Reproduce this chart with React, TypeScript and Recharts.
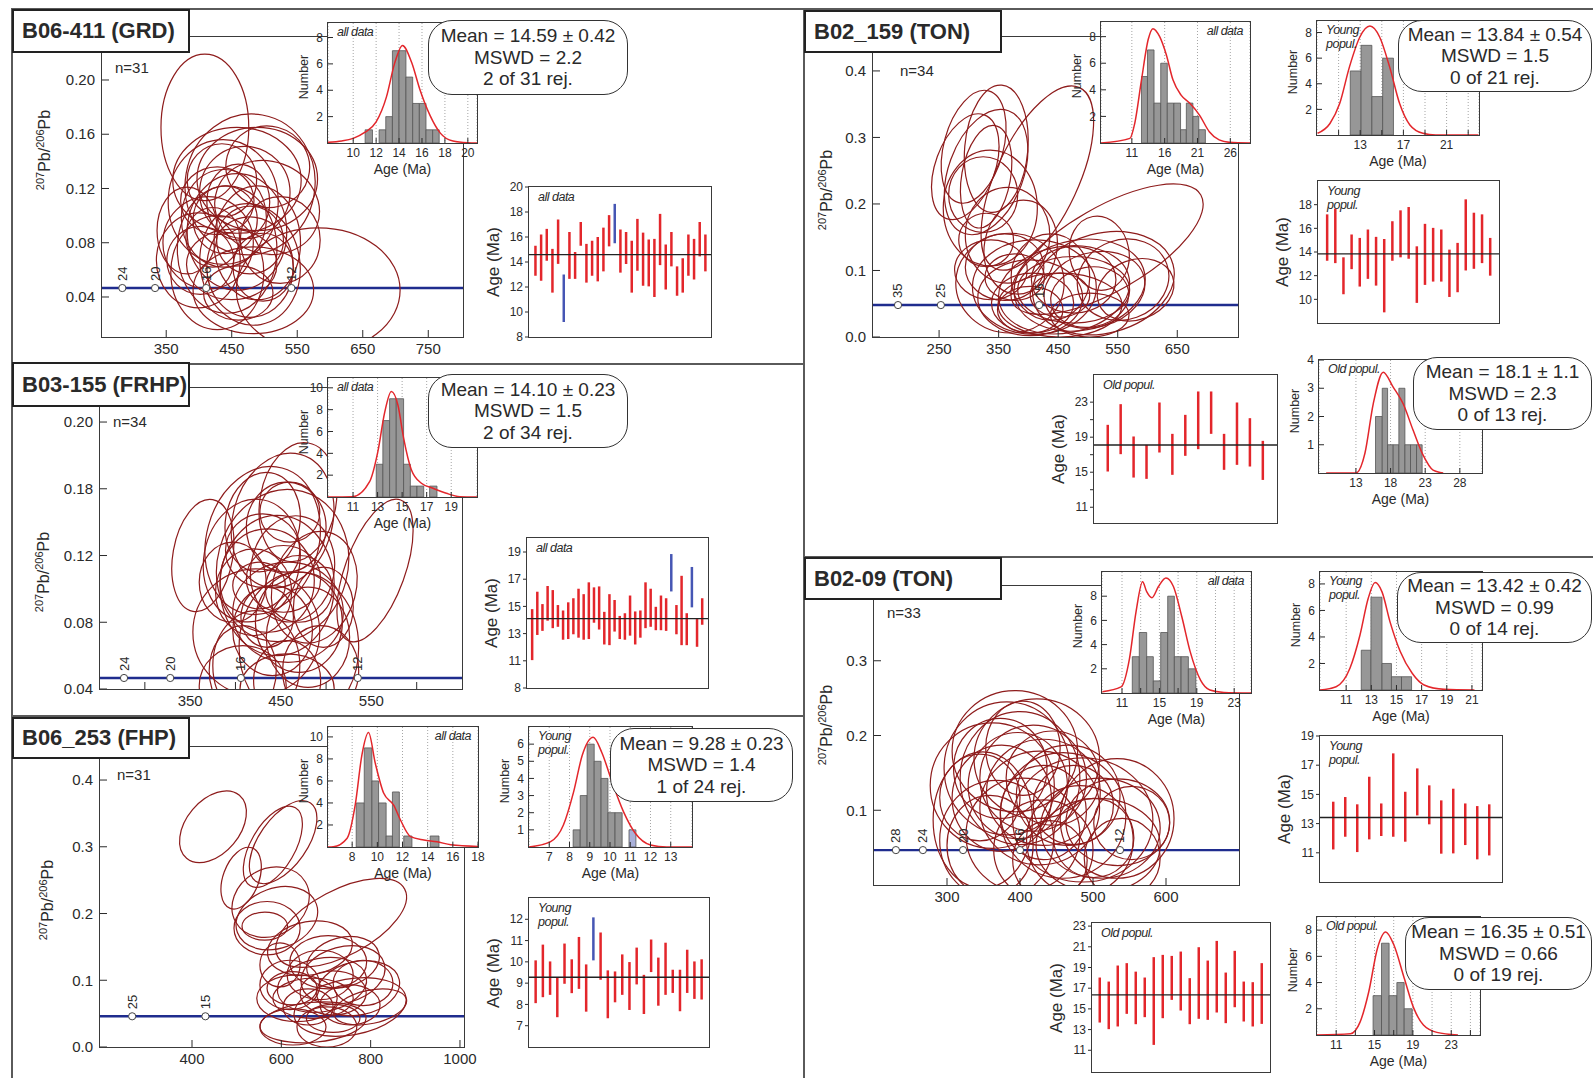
import React from "react";
import {
  ComposedChart,
  BarChart,
  Bar,
  Cell,
  Line,
  Scatter,
  XAxis,
  YAxis,
  ReferenceLine,
  ReferenceArea,
  CartesianGrid,
} from "recharts";

type Ell = [number, number, number, number, number]; // centre x, centre y, half-width, half-height, tilt (deg)
type Bin = [number, number, number]; // from age, to age, count
type Pt = [number, number]; // age, density (in counts)
type Rng = [number, number]; // age - 2s, age + 2s
type Mark = [number, string]; // 238U/206Pb position, age label

// ---------- B06-411 (GRD) ----------
const ell411: Ell[] = [
  [409, 0.165, 67, 0.054, 0], [582, 0.045, 125, 0.046, 0], [478, 0.123, 99, 0.052, 10],
  [489, 0.127, 92, 0.038, 0], [458, 0.126, 98, 0.039, 0], [437, 0.11, 84, 0.046, 0],
  [438, 0.098, 65, 0.036, 0], [458, 0.088, 76, 0.043, 0], [399, 0.067, 64, 0.035, 0],
  [428, 0.058, 71, 0.042, 0], [450, 0.064, 69, 0.026, 0], [489, 0.08, 66, 0.042, 0],
  [524, 0.082, 61, 0.032, 0], [470, 0.117, 69, 0.034, 0], [440, 0.097, 49, 0.025, 0],
  [443, 0.075, 76, 0.047, 0], [478, 0.062, 66, 0.037, 0], [414, 0.08, 69, 0.034, 0],
  [483, 0.045, 92, 0.032, 0], [460, 0.11, 48, 0.028, 0], [505, 0.136, 64, 0.03, 15],
  [435, 0.126, 53, 0.027, 0], [402, 0.067, 51, 0.025, 0], [478, 0.082, 51, 0.025, 0],
  [498, 0.062, 46, 0.025, 0], [428, 0.111, 56, 0.025, 0], [478, 0.064, 76, 0.045, -10],
  [382, 0.089, 46, 0.032, 0], [504, 0.106, 81, 0.034, 20], [421, 0.084, 41, 0.022, 0],
  [460, 0.043, 53, 0.02, 0],
];
const mk411: Mark[] = [[283, "24"], [333, "20"], [411, "16"], [541, "12"]];
const bins411: Bin[] = [
  [11.04, 11.68, 1], [12.26, 12.84, 1], [12.84, 13.42, 2], [13.42, 14.0, 7], [14.0, 14.6, 7],
  [14.6, 15.19, 5], [15.19, 15.77, 3], [15.77, 16.35, 3], [16.35, 16.93, 1], [16.93, 17.5, 1],
];
const kde411: Pt[] = [
  [7.8, 0.05], [9, 0.15], [10, 0.35], [11, 0.8], [12, 1.6], [12.9, 3.5], [13.6, 6.0], [14.3, 7.4],
  [15.1, 6.1], [15.8, 4.1], [16.7, 2.1], [17.6, 0.75], [18.7, 0.15], [20, 0.02], [20.8, 0],
];
const wm411: Rng[] = [
  [12.9, 15.3], [12.5, 16.2], [14.1, 16.65], [11.55, 15.05], [13.85, 17.4], [9.2, 13.0],
  [12.65, 16.4], [12.65, 14.8], [15.3, 17.2], [12.35, 15.45], [12.9, 15.7], [12.45, 16.0],
  [13.25, 16.75], [15.25, 17.75], [15.5, 18.65], [13.15, 16.6], [13.85, 16.4], [11.55, 15.7],
  [13.3, 17.45], [12.1, 16.35], [12.05, 15.8], [11.2, 15.85], [13.75, 17.85], [11.8, 15.4],
  [13.65, 16.4], [11.3, 13.65], [11.55, 14.3], [12.9, 16.2], [12.6, 15.85], [14.45, 17.2],
  [13.25, 16.2],
];
const rej411 = [5, 14];

// ---------- B03-155 (FRHP) ----------
const ell155: Ell[] = [
  [364, 0.12, 33, 0.034, 10], [554, 0.111, 33, 0.045, 20], [469, 0.152, 42, 0.036, 10],
  [452, 0.141, 55, 0.041, 15], [430, 0.129, 62, 0.045, 15], [452, 0.114, 72, 0.046, 15],
  [418, 0.117, 53, 0.037, 10], [446, 0.102, 63, 0.042, 0], [423, 0.074, 70, 0.038, 0],
  [470, 0.065, 66, 0.045, 0], [435, 0.105, 52, 0.031, 0], [463, 0.112, 46, 0.032, 10],
  [458, 0.086, 61, 0.03, 0], [423, 0.054, 48, 0.033, 0], [470, 0.08, 48, 0.03, 0],
  [397, 0.104, 37, 0.024, 0], [487, 0.101, 46, 0.034, 15], [430, 0.14, 41, 0.03, 10],
  [456, 0.137, 44, 0.027, 0], [441, 0.075, 44, 0.027, 0], [408, 0.051, 37, 0.027, 0],
  [494, 0.051, 42, 0.027, 0], [457, 0.045, 37, 0.024, 0], [435, 0.083, 29, 0.018, 0],
  [470, 0.1, 37, 0.02, 0], [420, 0.098, 42, 0.026, 0], [460, 0.146, 33, 0.018, 0],
  [426, 0.102, 29, 0.014, 0], [497, 0.089, 33, 0.024, 0], [408, 0.042, 48, 0.024, 0],
  [457, 0.04, 52, 0.021, 0], [480, 0.071, 46, 0.03, 0], [430, 0.123, 41, 0.022, 0],
  [453, 0.106, 41, 0.02, 0],
];
const mk155: Mark[] = [[277, "24"], [328, "20"], [406, "16"], [535, "12"]];
const yt155 = [0.04, 0.08, 0.12, 0.16, 0.2];
const yLab155 = ["0.04", "0.08", "0.12", "0.18", "0.20"];
const xt155 = [300, 350, 400, 450, 500, 550, 600];
const bins155: Bin[] = [
  [12.89, 13.43, 3], [13.43, 13.98, 7], [13.98, 14.52, 9], [14.52, 15.12, 9],
  [15.12, 15.67, 3], [15.67, 16.21, 1], [16.21, 16.76, 1], [17.24, 17.84, 1],
];
const kde155: Pt[] = [
  [8.96, 0], [10.98, 0.03], [12.35, 1.4], [13.03, 4.2], [13.57, 7.7], [14.12, 9.66], [14.66, 8.4],
  [15.12, 5.4], [15.75, 2.5], [16.57, 1.26], [17.52, 0.8], [18.6, 0.34], [19.7, 0.03], [21.1, 0],
];
const wm155: Rng[] = [
  [11.05, 14.8], [12.9, 16.08], [13.2, 15.17], [13.95, 16.5], [13.4, 16.2], [13.5, 15.1],
  [12.55, 14.7], [12.6, 15.3], [12.95, 15.6], [12.7, 16.3], [12.55, 15.9], [12.6, 16.77],
  [13.8, 16.4], [13.3, 16.47], [12.2, 14.6], [12.15, 15.9], [13.15, 15.47], [12.6, 14.3],
  [12.55, 14.5], [12.85, 15.8], [12.2, 14.63], [12.7, 14.7], [13.4, 16.77], [13.5, 16.3],
  [13.25, 14.97], [13.25, 15.8], [13.2, 15.6], [16.1, 18.85], [12.95, 15.1], [12.15, 17.25],
  [12.15, 14.5], [14.93, 17.9], [12.03, 14.07], [13.65, 15.6],
];
const rej155 = [27, 31];
const wmT155 = [9, 11, 13, 15, 17, 19];
const wmL155 = ["8", "11", "13", "15", "17", "19"];

// ---------- B06_253 (FHP) ----------
const ell253: Ell[] = [
  [447, 0.33, 92, 0.04, -50], [581, 0.3, 101, 0.033, -60], [604, 0.307, 107, 0.036, -55],
  [510, 0.253, 72, 0.027, -70], [576, 0.217, 90, 0.05, -30], [590, 0.193, 94, 0.045, -20],
  [563, 0.181, 51, 0.021, 0], [734, 0.186, 161, 0.049, -28], [568, 0.178, 74, 0.04, 0],
  [664, 0.148, 96, 0.04, -10], [705, 0.127, 86, 0.04, 0], [619, 0.093, 67, 0.037, 0],
  [635, 0.073, 90, 0.035, 0], [691, 0.093, 101, 0.04, -10], [738, 0.108, 96, 0.042, -15],
  [772, 0.088, 94, 0.04, -12], [754, 0.06, 127, 0.042, -10], [671, 0.037, 119, 0.03, -5],
  [671, 0.073, 90, 0.03, 0], [716, 0.081, 74, 0.033, 0], [687, 0.108, 74, 0.037, 0],
  [738, 0.127, 83, 0.037, -15], [624, 0.088, 56, 0.025, 0], [660, 0.06, 56, 0.027, 0],
  [754, 0.063, 67, 0.03, 0], [799, 0.06, 83, 0.025, -12], [702, 0.03, 67, 0.03, 0],
  [626, 0.03, 74, 0.027, 0], [783, 0.096, 67, 0.034, 0], [597, 0.123, 45, 0.033, 0],
  [716, 0.043, 60, 0.021, 0],
];
const mk253: Mark[] = [[266, "25"], [430, "15"]];
const bins253: Bin[] = [
  [8.32, 8.96, 4], [8.96, 9.57, 9], [9.57, 10.1, 6], [10.1, 10.7, 4], [10.7, 11.2, 1],
  [11.2, 11.75, 5], [12.1, 12.75, 1], [14.2, 14.9, 1],
];
const kde253: Pt[] = [
  [6.08, 0], [6.5, 0.02], [7.6, 0.8], [8.24, 3.8], [8.78, 8.4], [9.3, 10.4], [9.84, 7.6], [10.5, 4.9],
  [11.3, 3.8], [11.84, 2.45], [12.64, 0.94], [13.7, 0.64], [14.74, 0.48], [15.84, 0.2], [18, 0.05],
];
const bins253y: Bin[] = [
  [8.18, 8.53, 1], [8.53, 8.87, 3], [8.87, 9.22, 6], [9.22, 9.56, 5], [9.56, 9.9, 4],
  [9.9, 10.25, 2], [10.25, 10.6, 2], [10.94, 11.28, 1],
];
const rejBin253y = [7];
const kde253y: Pt[] = [
  [6, 0], [7.05, 0.3], [7.7, 1.28], [8.2, 3.2], [8.63, 5.35], [9.17, 6.4], [9.6, 5.5], [10.1, 3.8],
  [10.67, 2.05], [11.25, 0.8], [12.0, 0.12], [12.8, 0], [14.05, 0],
];
const wm253: Rng[] = [
  [8.06, 10.07], [8.34, 10.81], [8.45, 10.02], [7.4, 9.28], [8.97, 10.86], [8.53, 10.12],
  [8.73, 11.17], [7.66, 9.88], [10.07, 12.09], [9.16, 11.38], [7.35, 9.6], [8.1, 9.55],
  [8.45, 10.35], [7.74, 9.99], [8.94, 10.67], [7.55, 9.39], [9.52, 11.05], [7.94, 10.2],
  [8.45, 10.9], [8.54, 9.63], [7.68, 9.63], [8.54, 10.57], [8.26, 10.02], [8.23, 10.12],
];
const rej253 = [8];

// ---------- B02_159 (TON) ----------
const ell159: Ell[] = [
  [294, 0.256, 50, 0.083, 20], [308, 0.286, 50, 0.087, 15], [329, 0.248, 63, 0.098, 20],
  [329, 0.241, 41, 0.078, 10], [346, 0.283, 53, 0.096, 5], [415, 0.239, 69, 0.15, 25],
  [532, 0.132, 182, 0.063, -30], [336, 0.194, 79, 0.087, 0], [324, 0.214, 58, 0.057, 0],
  [365, 0.153, 71, 0.072, 0], [387, 0.135, 61, 0.071, 10], [369, 0.081, 91, 0.075, 0],
  [410, 0.075, 104, 0.071, 0], [460, 0.071, 111, 0.065, -10], [526, 0.081, 121, 0.075, -15],
  [486, 0.078, 111, 0.068, -10], [403, 0.059, 88, 0.057, 0], [453, 0.048, 104, 0.048, 0],
  [476, 0.071, 94, 0.05, 0], [511, 0.071, 86, 0.056, -15], [407, 0.051, 69, 0.045, 0],
  [337, 0.101, 61, 0.045, 0], [360, 0.105, 66, 0.05, 0], [437, 0.09, 66, 0.065, 0],
  [476, 0.086, 71, 0.05, 0], [503, 0.06, 66, 0.045, -10], [559, 0.086, 78, 0.06, -20],
  [377, 0.09, 50, 0.035, 0], [453, 0.063, 50, 0.033, 0], [403, 0.041, 55, 0.035, 0],
  [503, 0.033, 66, 0.033, 0], [329, 0.146, 46, 0.04, 0], [519, 0.126, 50, 0.056, -10],
  [580, 0.071, 66, 0.045, -20],
];
const mk159: Mark[] = [[181, "35"], [253, "25"], [418, "15"]];
const bins159: Bin[] = [
  [12.47, 13.38, 5], [13.38, 14.38, 7], [14.38, 15.4, 3], [15.4, 16.4, 6], [16.4, 17.4, 3],
  [17.4, 18.42, 3], [18.42, 19.3, 1], [19.3, 20.3, 3], [20.3, 21.2, 2], [21.2, 22.2, 1],
];
const kde159: Pt[] = [
  [6.3, 0], [10.7, 0.35], [11.45, 1.5], [12.47, 4.75], [13.5, 7.8], [14.2, 8.6], [15.24, 8.0],
  [16.25, 6.64], [17.26, 4.75], [18.5, 3.6], [19.8, 3.0], [21.3, 2.1], [22.8, 0.85], [24.3, 0.23],
  [25.85, 0.05], [29, 0],
];
const bins159y: Bin[] = [[12.08, 13.08, 5], [13.08, 14.08, 7], [14.08, 15.08, 3], [15.08, 16.08, 6]];
const kde159y: Pt[] = [
  [9.05, 0.13], [10.2, 0.9], [11.1, 2.45], [12.0, 5.3], [12.97, 7.65], [13.9, 8.5], [14.8, 7.65],
  [15.73, 5.3], [16.65, 2.45], [17.6, 0.78], [18.8, 0.13], [20, 0], [23.95, 0],
];
const wm159y: Rng[] = [
  [13.26, 17.18], [13.06, 17.66], [10.43, 13.55], [12.55, 15.48], [11.08, 15.19], [11.73, 15.9],
  [11.16, 15.28], [8.9, 15.1], [13.26, 16.6], [13.55, 17.52], [13.43, 17.8], [9.7, 14.48],
  [11.22, 16.38], [11.5, 16.04], [11.5, 15.9], [10.2, 14.2], [10.6, 14.77], [12.44, 18.45],
  [12.58, 17.32], [13.06, 17.18], [12.0, 15.19],
];
const wm159o: Rng[] = [
  [15.08, 20.41], [17.06, 22.77], [14.39, 19.08], [14.24, 18.12], [17.25, 22.96], [14.7, 19.38],
  [16.87, 21.55], [17.63, 24.22], [19.38, 24.22], [15.27, 19.38], [15.84, 22.96], [15.65, 21.17],
  [14.12, 18.58],
];
const bins159o: Bin[] = [
  [15.83, 16.8, 2], [16.8, 17.57, 3], [17.57, 18.38, 1], [18.38, 19.2, 1], [19.2, 20.07, 3],
  [20.07, 20.88, 1], [20.88, 21.75, 1], [21.75, 22.56, 1],
];
const kde159o: Pt[] = [
  [8.7, 0], [13, 0], [14.3, 0.7], [15.5, 2.45], [16.94, 3.57], [18.38, 3.04], [19.82, 2.45],
  [21.26, 1.51], [22.7, 0.63], [24.14, 0.1], [25.6, 0],
];

// ---------- B02-09 (TON) ----------
const ell09: Ell[] = [
  [393, 0.179, 86, 0.081, 0], [362, 0.133, 85, 0.084, 0], [382, 0.156, 86, 0.089, 0],
  [400, 0.143, 82, 0.089, 0], [423, 0.169, 86, 0.08, 0], [349, 0.087, 68, 0.091, 0],
  [368, 0.06, 78, 0.08, 0], [432, 0.124, 78, 0.071, 0], [459, 0.093, 86, 0.084, 0],
  [486, 0.087, 96, 0.083, 0], [533, 0.089, 78, 0.08, 0], [510, 0.076, 82, 0.067, 0],
  [507, 0.053, 85, 0.063, 0], [397, 0.133, 68, 0.071, 0], [418, 0.143, 73, 0.071, 0],
  [375, 0.116, 68, 0.071, 0], [404, 0.067, 78, 0.076, 0], [432, 0.047, 68, 0.067, 0],
  [445, 0.143, 64, 0.063, 0], [482, 0.06, 73, 0.073, 0], [534, 0.084, 71, 0.058, 0],
  [373, 0.156, 64, 0.067, 0], [427, 0.103, 82, 0.076, 0], [466, 0.12, 71, 0.067, 0],
  [359, 0.053, 59, 0.067, 0], [432, 0.097, 59, 0.063, 0], [501, 0.063, 55, 0.053, 0],
  [540, 0.036, 52, 0.053, 0], [404, 0.183, 51, 0.063, 0], [473, 0.107, 55, 0.053, 0],
  [441, 0.033, 51, 0.053, 0], [345, 0.117, 55, 0.058, 0], [553, 0.083, 52, 0.049, 0],
];
const mk09: Mark[] = [[230, "28"], [267, "24"], [322, "20"], [400, "16"], [537, "12"]];
const bins09: Bin[] = [
  [12.1, 12.85, 3], [12.85, 13.64, 5], [13.64, 14.35, 3], [14.35, 15.14, 1], [15.14, 15.89, 5],
  [15.89, 16.6, 8], [16.6, 17.32, 3], [17.32, 18.1, 3], [18.1, 18.9, 2],
];
const kde09: Pt[] = [
  [8.9, 0.1], [10.9, 0.5], [11.8, 2.85], [12.5, 6.7], [13.2, 9.2], [13.64, 8.37], [14.2, 7.88],
  [14.9, 8.8], [15.7, 9.5], [16.5, 8.8], [17.4, 6.3], [18.3, 3.4], [19.4, 1.07], [20.4, 0.25],
  [21.9, 0.05], [24.8, 0],
];
const bins09y: Bin[] = [[12.2, 12.97, 3], [12.97, 13.85, 7], [13.85, 14.6, 2], [14.6, 15.4, 1], [15.4, 16.2, 1]];
const kde09y: Pt[] = [
  [8.92, 0], [10.2, 0.25], [11.3, 1.64], [12.1, 4.15], [12.75, 6.9], [13.3, 8.1], [13.85, 7.4],
  [14.5, 5.1], [15.3, 2.9], [16.25, 1.26], [17.2, 0.38], [18.8, 0.05], [21.2, 0],
];
const wm09y: Rng[] = [
  [11.23, 14.5], [12.1, 14.82], [11.05, 14.32], [11.92, 16.21], [12.15, 14.38], [12.1, 17.81],
  [11.76, 15.18], [13.56, 16.78], [12.95, 15.62], [10.94, 14.59], [10.96, 15.39], [11.53, 14.38],
  [10.55, 14.2], [10.82, 14.32],
];
const wm09o: Rng[] = [
  [13.68, 18.03], [13.04, 17.64], [13.3, 19.19], [14.52, 19.42], [13.52, 18.6], [14.2, 18.03],
  [11.52, 20.0], [14.1, 20.22], [15.87, 20.12], [14.84, 20.54], [13.52, 17.97], [14.04, 20.96],
  [13.94, 19.67], [14.65, 21.57], [13.62, 18.51], [15.16, 20.61], [13.78, 17.64], [13.3, 17.58],
  [13.55, 19.42],
];
const bins09o: Bin[] = [[14.85, 15.73, 3], [15.73, 16.52, 7], [16.52, 17.33, 3], [17.33, 18.09, 4], [18.09, 18.93, 2]];
const kde09o: Pt[] = [
  [9, 0], [12.5, 0.1], [13.5, 1.0], [14.4, 3.3], [15.3, 6.6], [16.16, 7.85], [17.0, 6.9],
  [18.1, 4.33], [19.1, 2.03], [20.1, 0.76], [21.5, 0.2], [23.7, 0],
];

// ---------- styling ----------
const FONT = '"Liberation Sans", Arial, Helvetica, sans-serif';
const INK = "#2a2a2a";
const RED = "#e3262b";
const BLUE = "#4656b4";
const ELL = "#8e1c1c";
const CONC = "#1f2c8e";

type Fr = { x: number; y: number; w: number; h: number };

type TickOpt = {
  side: "left" | "bottom";
  len: number; // > 0 points into the plot
  gap: number;
  size: number;
  fmt?: (v: number) => string;
  show?: (v: number) => boolean;
  mark?: (v: number) => boolean;
};

const mkTick = (o: TickOpt) => (p: any) => {
  const v = p.payload.value;
  const txt = o.show && !o.show(v) ? "" : o.fmt ? o.fmt(v) : String(v);
  const drawMark = o.mark ? o.mark(v) : true;
  if (o.side === "left") {
    return (
      <g>
        {drawMark && <line x1={p.x} y1={p.y} x2={p.x + o.len} y2={p.y} stroke={INK} strokeWidth={1} />}
        {txt && (
          <text x={p.x - o.gap} y={p.y} dy="0.35em" textAnchor="end" fontSize={o.size} fontFamily={FONT} fill={INK}>
            {txt}
          </text>
        )}
      </g>
    );
  }
  return (
    <g>
      {drawMark && <line x1={p.x} y1={p.y} x2={p.x} y2={p.y - o.len} stroke={INK} strokeWidth={1} />}
      {txt && (
        <text x={p.x} y={p.y + o.gap} dy="0.75em" textAnchor="middle" fontSize={o.size} fontFamily={FONT} fill={INK}>
          {txt}
        </text>
      )}
    </g>
  );
};

function Border({ f }: { f: Fr }) {
  return (
    <div
      style={{
        position: "absolute", left: f.x - 1, top: f.y - 1, width: f.w + 2, height: f.h + 2,
        border: "1.5px solid #3a3a3a", boxSizing: "border-box", pointerEvents: "none",
      }}
    />
  );
}

function Txt({ x, y, size, children, italic, anchor = "start", bold }: any) {
  const tx = anchor === "end" ? "translate(-100%,-50%)" : anchor === "middle" ? "translate(-50%,-50%)" : "translate(0,-50%)";
  return (
    <div
      style={{
        position: "absolute", left: x, top: y, transform: tx, fontSize: size, whiteSpace: "nowrap",
        fontStyle: italic ? "italic" : "normal", fontWeight: bold ? 700 : 400, lineHeight: 1.1,
        letterSpacing: italic ? -0.4 : 0, textAlign: anchor === "end" ? "right" : "left",
      }}
    >
      {children}
    </div>
  );
}

function VTxt({ x, y, size, children }: any) {
  return (
    <div
      style={{
        position: "absolute", left: x, top: y, transform: "translate(-50%,-50%) rotate(-90deg)",
        fontSize: size, whiteSpace: "nowrap", lineHeight: 1,
      }}
    >
      {children}
    </div>
  );
}

function Rule({ x, y, w, h }: any) {
  return <div style={{ position: "absolute", left: x, top: y, width: w, height: h, background: "#5a5a5a" }} />;
}

function Tag({ f, lines, right }: { f: Fr; lines: string[]; right?: boolean }) {
  return (
    <div
      style={{
        position: "absolute", top: f.y + 3, left: right ? undefined : f.x + 9,
        right: right ? 1593 - (f.x + f.w - 7) : undefined, fontSize: 12.5, fontStyle: "italic",
        letterSpacing: -0.5, lineHeight: "13.5px", textAlign: right ? "right" : "left", whiteSpace: "nowrap",
      }}
    >
      {lines.map((l, i) => (
        <div key={i}>{l}</div>
      ))}
    </div>
  );
}

const Marker = (p: any) => (
  <g>
    <circle cx={p.cx} cy={p.cy} r={3.6} fill="#fff" stroke="#444" strokeWidth={1} />
    <text
      x={p.cx} y={p.cy - 7} transform={`rotate(-90 ${p.cx} ${p.cy - 7})`} fontSize={13} fill={INK}
      fontFamily={FONT} dominantBaseline="central" textAnchor="start"
    >
      {p.payload.age}
    </text>
  </g>
);

function Concordia({ f, xd, yd, xt, yt, yfmt, xmark, xshow, ell, marks, cy }: any) {
  const padL = 56, padR = 24, padT = 4, padB = 30;
  const kx = f.w / (xd[1] - xd[0]);
  const ky = f.h / (yd[1] - yd[0]);
  const pts = ell.map(([x, y, sx, sy, r]: Ell) => ({ x, y, sx, sy, r }));
  const mk = marks.map(([x, age]: Mark) => ({ x, y: cy, age }));
  return (
    <>
      <div style={{ position: "absolute", left: f.x - padL, top: f.y - padT }}>
        <ComposedChart
          width={f.w + padL + padR}
          height={f.h + padT + padB}
          margin={{ top: padT, right: padR, left: 0, bottom: 0 }}
        >
          <XAxis
            type="number" dataKey="x" domain={xd} ticks={xt} allowDataOverflow interval={0} height={padB}
            axisLine={false} tickLine={false} tickSize={0} tickMargin={0}
            tick={mkTick({ side: "bottom", len: 7, gap: 6, size: 15, mark: xmark, show: xshow })}
          />
          <YAxis
            type="number" dataKey="y" domain={yd} ticks={yt} allowDataOverflow interval={0} width={padL}
            axisLine={false} tickLine={false} tickSize={0} tickMargin={0}
            tick={mkTick({ side: "left", len: 7, gap: 7, size: 15, fmt: yfmt })}
          />
          <ReferenceLine y={cy} stroke={CONC} strokeWidth={2.4} />
          <Scatter
            data={pts}
            isAnimationActive={false}
            shape={(p: any) => (
              <ellipse
                cx={p.cx} cy={p.cy} rx={p.payload.sx * kx} ry={p.payload.sy * ky}
                transform={`rotate(${p.payload.r} ${p.cx} ${p.cy})`}
                fill="none" stroke={ELL} strokeWidth={1.2}
              />
            )}
          />
          <Scatter data={mk} isAnimationActive={false} shape={Marker} />
        </ComposedChart>
      </div>
      <Border f={f} />
    </>
  );
}

function Histo({ f, xd, yd, xt, xl, yt, bins, rej = [], kde, tag, tagRight }: any) {
  const padL = 30, padR = 14, padT = 6, padB = 24;
  const data = kde.map(([x, y]: Pt) => ({ x, y }));
  return (
    <>
      <div style={{ position: "absolute", left: f.x, top: f.y, width: f.w, height: f.h, background: "#fff" }} />
      <div style={{ position: "absolute", left: f.x - padL, top: f.y - padT }}>
        <ComposedChart
          data={data}
          width={f.w + padL + padR}
          height={f.h + padT + padB}
          margin={{ top: padT, right: padR, left: 0, bottom: 0 }}
        >
          <CartesianGrid horizontal={false} stroke="#a5a5a5" strokeDasharray="1 2" />
          <XAxis
            type="number" dataKey="x" domain={xd} ticks={xt} allowDataOverflow interval={0} height={padB}
            axisLine={false} tickLine={false} tickSize={0} tickMargin={0}
            tick={mkTick({ side: "bottom", len: 5, gap: 5, size: 12, show: xl ? (v: number) => xl.includes(v) : undefined })}
          />
          <YAxis
            type="number" domain={yd} ticks={yt} allowDataOverflow interval={0} width={padL}
            axisLine={false} tickLine={false} tickSize={0} tickMargin={0}
            tick={mkTick({ side: "left", len: 5, gap: 5, size: 12 })}
          />
          {bins.map(([a, b, n]: Bin, i: number) => (
            <ReferenceArea
              key={i} x1={a} x2={b} y1={0} y2={n} fill={rej.includes(i) ? "#a9b0d9" : "#979797"}
              fillOpacity={1} stroke="#555" strokeWidth={0.8} ifOverflow="visible"
            />
          ))}
          <Line dataKey="y" type="monotone" stroke={RED} strokeWidth={1.5} dot={false} isAnimationActive={false} />
        </ComposedChart>
      </div>
      <Border f={f} />
      <VTxt x={f.x - 24} y={f.y + f.h * 0.45} size={12.5}>Number</VTxt>
      <Txt x={f.x + f.w / 2} y={f.y + f.h + 27} size={14} anchor="middle">Age (Ma)</Txt>
      <Tag f={f} lines={tag} right={tagRight} />
    </>
  );
}

function WMean({ f, yd, yt, ylab, bars, rej = [], mean, pad, tag }: any) {
  const padL = 30, pv = 10;
  const data = bars.map(([lo, hi]: Rng, i: number) => ({ i, r: [lo, hi] }));
  return (
    <>
      <div style={{ position: "absolute", left: f.x - padL, top: f.y - pv }}>
        <BarChart
          data={data}
          width={f.w + padL}
          height={f.h + 2 * pv}
          margin={{ top: pv, right: 0, left: 0, bottom: pv }}
        >
          <XAxis dataKey="i" hide padding={{ left: pad, right: pad }} />
          <YAxis
            type="number" domain={yd} ticks={yt} allowDataOverflow interval={0} width={padL}
            axisLine={false} tickLine={false} tickSize={0} tickMargin={0}
            tick={mkTick({ side: "left", len: -4, gap: 6, size: 12, fmt: ylab ? (v: number) => ylab[yt.indexOf(v)] : undefined })}
          />
          <ReferenceLine y={mean} stroke="#222" strokeWidth={1.4} />
          <Bar dataKey="r" barSize={2.5} isAnimationActive={false}>
            {data.map((d: any, i: number) => (
              <Cell key={i} fill={rej.includes(i) ? BLUE : RED} />
            ))}
          </Bar>
        </BarChart>
      </div>
      <Border f={f} />
      <VTxt x={f.x - 36} y={f.y + f.h / 2} size={17}>Age (Ma)</VTxt>
      <Tag f={{ ...f, y: f.y + 1 }} lines={tag} />
    </>
  );
}

function MeanBox({ x, y, w, h, lines }: any) {
  return (
    <div
      style={{
        position: "absolute", left: x, top: y, width: w, height: h, boxSizing: "border-box",
        border: "1.5px solid #333", borderRadius: 24, background: "#fff", display: "flex",
        flexDirection: "column", justifyContent: "center", alignItems: "center", fontSize: 19, lineHeight: "21.5px",
      }}
    >
      {lines.map((l: string, i: number) => (
        <div key={i} style={{ whiteSpace: "nowrap" }}>{l}</div>
      ))}
    </div>
  );
}

function Title({ x, y, w, h, text }: any) {
  return (
    <div
      style={{
        position: "absolute", left: x, top: y, width: w, height: h, boxSizing: "border-box",
        border: "2px solid #222", background: "#fff", fontSize: 22, fontWeight: 700,
        lineHeight: `${h - 4}px`, paddingLeft: 8, whiteSpace: "nowrap",
      }}
    >
      {text}
    </div>
  );
}

const PbLabel = () => (
  <span>
    <sup style={{ fontSize: 11 }}>207</sup>Pb/<sup style={{ fontSize: 11 }}>206</sup>Pb
  </span>
);

const f2 = (v: number) => v.toFixed(2);
const f1 = (v: number) => v.toFixed(1);

export default function App() {
  return (
    <div
      style={{
        position: "absolute", left: 0, top: 0, width: 1593, height: 1078, background: "#fff",
        fontFamily: FONT, color: INK, overflow: "hidden",
      }}
    >
      {/* panel rules */}
      <Rule x={12} y={8} w={1581} h={2} />
      <Rule x={11} y={8} w={2} h={1070} />
      <Rule x={803} y={8} w={2} h={1070} />
      <Rule x={12} y={363} w={792} h={2} />
      <Rule x={12} y={715} w={792} h={2} />
      <Rule x={804} y={556} w={789} h={2} />

      {/* B06-411 */}
      <Concordia
        f={{ x: 102, y: 37, w: 361, h: 300 }} xd={[252, 803]} yd={[0.0105, 0.2317]}
        xt={[350, 450, 550, 650, 750]} yt={[0.04, 0.08, 0.12, 0.16, 0.2]} yfmt={f2}
        ell={ell411} marks={mk411} cy={0.0466}
      />
      <VTxt x={44} y={150} size={16}><PbLabel /></VTxt>
      <Txt x={115} y={68} size={15}>n=31</Txt>

      {/* B03-155 */}
      <Concordia
        f={{ x: 100, y: 388, w: 362, h: 301 }} xd={[250.5, 650]} yd={[0.04, 0.2204]}
        xt={xt155} xmark={(v: number) => v % 100 === 0} xshow={(v: number) => v % 100 !== 0}
        yt={yt155} yfmt={(v: number) => yLab155[yt155.indexOf(v)]}
        ell={ell155} marks={mk155} cy={0.0466}
      />
      <VTxt x={43} y={572} size={16}><PbLabel /></VTxt>
      <Txt x={113} y={422} size={15}>n=34</Txt>

      {/* B06_253 */}
      <Concordia
        f={{ x: 100, y: 747, w: 364, h: 300 }} xd={[194, 1009]} yd={[0, 0.4495]}
        xt={[400, 600, 800, 1000]} yt={[0, 0.1, 0.2, 0.3, 0.4]} yfmt={f1}
        ell={ell253} marks={mk253} cy={0.046}
      />
      <VTxt x={47} y={900} size={16}><PbLabel /></VTxt>
      <Txt x={117} y={775} size={15}>n=31</Txt>

      {/* B02_159 */}
      <Concordia
        f={{ x: 873, y: 37, w: 365, h: 300 }} xd={[139, 752]} yd={[0, 0.451]}
        xt={[250, 350, 450, 550, 650]} yt={[0, 0.1, 0.2, 0.3, 0.4]} yfmt={f1}
        ell={ell159} marks={mk159} cy={0.048}
      />
      <VTxt x={826} y={190} size={16}><PbLabel /></VTxt>
      <Txt x={900} y={71} size={15}>n=34</Txt>

      {/* B02-09 */}
      <Concordia
        f={{ x: 874, y: 586, w: 365, h: 299 }} xd={[200, 700]} yd={[0, 0.4]}
        xt={[300, 400, 500, 600]} yt={[0.1, 0.2, 0.3]} yfmt={f1}
        ell={ell09} marks={mk09} cy={0.0467}
      />
      <VTxt x={826} y={725} size={16}><PbLabel /></VTxt>
      <Txt x={887} y={613} size={15}>n=33</Txt>

      {/* histograms */}
      <Histo f={{ x: 328, y: 23, w: 149, h: 120 }} xd={[7.8, 20.8]} yd={[0, 9.1]}
        xt={[10, 12, 14, 16, 18, 20]} yt={[2, 4, 6, 8]} bins={bins411} kde={kde411} tag={["all data"]} />
      <Histo f={{ x: 328, y: 378, w: 149, h: 119 }} xd={[8.96, 21.1]} yd={[0, 10.9]}
        xt={[11, 13, 15, 17, 19]} yt={[2, 4, 6, 8, 10]} bins={bins155} kde={kde155} tag={["all data"]} />
      <Histo f={{ x: 328, y: 727, w: 150, h: 120 }} xd={[6.08, 18]} yd={[0, 10.9]}
        xt={[8, 10, 12, 14, 16, 18]} yt={[2, 4, 6, 8, 10]} bins={bins253} kde={kde253} tag={["all data"]} tagRight />
      <Histo f={{ x: 529, y: 727, w: 163, h: 120 }} xd={[6, 14.05]} yd={[0, 7]}
        xt={[7, 8, 9, 10, 11, 12, 13]} yt={[1, 2, 3, 4, 5, 6]} bins={bins253y} rej={rejBin253y} kde={kde253y}
        tag={["Young", "popul."]} />
      <Histo f={{ x: 1101, y: 22, w: 149, h: 121 }} xd={[6.3, 29]} yd={[0, 9.1]}
        xt={[11, 16, 21, 26]} yt={[2, 4, 6, 8]} bins={bins159} kde={kde159} tag={["all data"]} tagRight />
      <Histo f={{ x: 1317, y: 21, w: 162, h: 114 }} xd={[9, 24]} yd={[0, 8.9]}
        xt={[11, 13, 15, 17, 19, 21, 23]} xl={[13, 17, 21]} yt={[2, 4, 6, 8]} bins={bins159y} kde={kde159y}
        tag={["Young", "popul."]} />
      <Histo f={{ x: 1319, y: 360, w: 163, h: 113 }} xd={[7.67, 31.2]} yd={[0, 4]}
        xt={[13, 18, 23, 28]} yt={[1, 2, 3, 4]} bins={bins159o} kde={kde159o} tag={["Old popul."]} />
      <Histo f={{ x: 1102, y: 572, w: 149, h: 121 }} xd={[8.86, 24.8]} yd={[0, 10]}
        xt={[11, 13, 15, 17, 19, 21, 23]} xl={[11, 15, 19, 23]} yt={[2, 4, 6, 8]} bins={bins09} kde={kde09}
        tag={["all data"]} tagRight />
      <Histo f={{ x: 1320, y: 572, w: 162, h: 118 }} xd={[8.92, 21.8]} yd={[0, 8.9]}
        xt={[11, 13, 15, 17, 19, 21]} yt={[2, 4, 6, 8]} bins={bins09y} kde={kde09y} tag={["Young", "popul."]} />
      <Histo f={{ x: 1317, y: 917, w: 163, h: 118 }} xd={[9, 26]} yd={[0, 9]}
        xt={[11, 13, 15, 17, 19, 21, 23, 25]} xl={[11, 15, 19, 23]} yt={[2, 4, 6, 8]} bins={bins09o} kde={kde09o}
        tag={["Old popul."]} />

      {/* weighted mean plots */}
      <WMean f={{ x: 529, y: 187, w: 182, h: 150 }} yd={[8, 20]} yt={[8, 10, 12, 14, 16, 18, 20]}
        bars={wm411} rej={rej411} mean={14.59} pad={3.2} tag={["all data"]} />
      <WMean f={{ x: 527, y: 538, w: 181, h: 150 }} yd={[9, 20.03]} yt={wmT155} ylab={wmL155}
        bars={wm155} rej={rej155} mean={14.1} pad={2.9} tag={["all data"]} />
      <WMean f={{ x: 529, y: 898, w: 180, h: 149 }} yd={[6, 13]} yt={[7, 8, 9, 10, 11, 12]}
        bars={wm253} rej={rej253} mean={9.28} pad={3.4} tag={["Young", "popul."]} />
      <WMean f={{ x: 1318, y: 181, w: 181, h: 142 }} yd={[8, 20]} yt={[10, 12, 14, 16, 18]}
        bars={wm159y} mean={13.84} pad={4.9} tag={["Young", "popul."]} />
      <WMean f={{ x: 1094, y: 375, w: 183, h: 148 }} yd={[9.2, 26.1]} yt={[11, 13, 15, 17, 19, 21, 23]}
        ylab={["11", "", "15", "", "19", "", "23"]} bars={wm159o} mean={18.1} pad={7.5} tag={["Old popul."]} />
      <WMean f={{ x: 1320, y: 736, w: 182, h: 146 }} yd={[9, 19]} yt={[11, 13, 15, 17, 19]}
        bars={wm09y} mean={13.42} pad={7} tag={["Young", "popul."]} />
      <WMean f={{ x: 1092, y: 923, w: 178, h: 149 }} yd={[8.9, 23.3]} yt={[11, 13, 15, 17, 19, 21, 23]}
        bars={wm09o} mean={16.35} pad={3.5} tag={["Old popul."]} />

      {/* statistics */}
      <MeanBox x={428} y={20} w={200} h={75} lines={["Mean = 14.59 ± 0.42", "MSWD = 2.2", "2 of 31 rej."]} />
      <MeanBox x={428} y={374} w={200} h={74} lines={["Mean = 14.10 ± 0.23", "MSWD = 1.5", "2 of 34 rej."]} />
      <MeanBox x={610} y={728} w={183} h={74} lines={["Mean = 9.28 ± 0.23", "MSWD = 1.4", "1 of 24 rej."]} />
      <MeanBox x={1398} y={20} w={194} h={72} lines={["Mean = 13.84 ± 0.54", "MSWD = 1.5", "0 of 21 rej."]} />
      <MeanBox x={1413} y={357} w={179} h={73} lines={["Mean = 18.1 ± 1.1", "MSWD = 2.3", "0 of 13 rej."]} />
      <MeanBox x={1397} y={572} w={195} h={71} lines={["Mean = 13.42 ± 0.42", "MSWD = 0.99", "0 of 14 rej."]} />
      <MeanBox x={1405} y={917} w={187} h={73} lines={["Mean = 16.35 ± 0.51", "MSWD = 0.66", "0 of 19 rej."]} />

      {/* sample titles */}
      <Title x={12} y={9} w={178} h={44} text="B06-411 (GRD)" />
      <Title x={12} y={362} w={178} h={45} text="B03-155 (FRHP)" />
      <Title x={12} y={717} w={178} h={42} text="B06_253 (FHP)" />
      <Title x={804} y={10} w={198} h={43} text="B02_159 (TON)" />
      <Title x={804} y={557} w={198} h={43} text="B02-09 (TON)" />
    </div>
  );
}
